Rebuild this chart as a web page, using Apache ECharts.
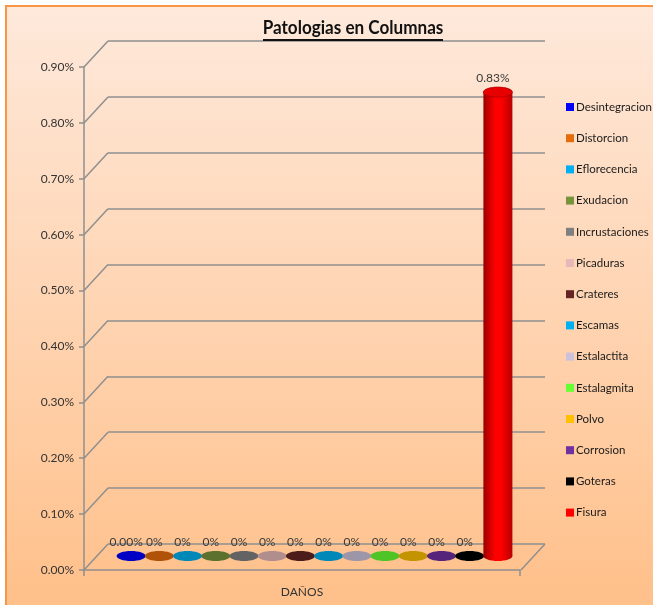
<!DOCTYPE html>
<html>
<head>
<meta charset="utf-8">
<script src="https://cdn.jsdelivr.net/npm/echarts@6/dist/echarts.min.js"></script>
<style>
  html, body { margin: 0; padding: 0; background: #ffffff; }
  #chart { width: 653px; height: 605px; }
</style>
</head>
<body>
<div id="chart"></div>
<script>
// Category shown under the floor of the 3D box
const categories = ['DAÑOS'];

// One series per pathology
const seriesNames = [
  'Desintegracion', 'Distorcion', 'Eflorecencia', 'Exudacion', 'Incrustaciones',
  'Picaduras', 'Crateres', 'Escamas', 'Estalactita', 'Estalagmita',
  'Polvo', 'Corrosion', 'Goteras', 'Fisura'
];

// Values in percent
const seriesValues = [0, 0, 0, 0, 0, 0, 0, 0, 0, 0, 0, 0, 0, 0.83];

// Decimal places used by each data label
const labelDecimals = [2, 0, 0, 0, 0, 0, 0, 0, 0, 0, 0, 0, 0, 2];

const seriesColors = [
  '#0000ff', '#e46c0a', '#00b0f0', '#77933c', '#808080',
  '#e6b9b8', '#632523', '#00b0f0', '#ccc1da', '#66ff33',
  '#ffc000', '#7030a0', '#000000', '#ff0000'
];

// Value axis ticks (percent)
const axisTicks = [0, 0.1, 0.2, 0.3, 0.4, 0.5, 0.6, 0.7, 0.8, 0.9];

const FONT = 'Lato, "Open Sans", sans-serif';
const GRID_COLOR = '#8f8f8f';
const DEPTH_X = 24, DEPTH_Y = 26;   // perspective offset between back wall and front edge

function shade(hex, f) {
  const n = parseInt(hex.slice(1), 16);
  const r = Math.round(((n >> 16) & 255) * f);
  const g = Math.round(((n >> 8) & 255) * f);
  const b = Math.round((n & 255) * f);
  return 'rgb(' + r + ',' + g + ',' + b + ')';
}

const chart = echarts.init(document.getElementById('chart'));

// Box edges joining the back wall gridlines to the front value axis
const frameSeries = {
  type: 'custom',
  xAxisIndex: 1,
  yAxisIndex: 1,
  silent: true,
  z: 1,
  data: axisTicks.map(v => [0, v]),
  renderItem: function (params, api) {
    const v = api.value(1);
    const p = api.coord([0, v]);
    const children = [{
      type: 'line',
      shape: { x1: p[0], y1: p[1], x2: p[0] - DEPTH_X, y2: p[1] + DEPTH_Y },
      style: { stroke: GRID_COLOR, lineWidth: 1.5 }
    }];
    if (v === 0) {
      const q = api.coord([1, 0]);
      children.push({
        type: 'line',
        shape: { x1: q[0], y1: q[1], x2: q[0] - DEPTH_X, y2: q[1] + DEPTH_Y },
        style: { stroke: GRID_COLOR, lineWidth: 1.5 }
      });
    }
    return { type: 'group', children: children };
  }
};

// Cylinder columns
function cylinderSeries(i) {
  const color = seriesColors[i];
  return {
    name: seriesNames[i],
    type: 'custom',
    xAxisIndex: 2,
    yAxisIndex: 2,
    z: 3,
    itemStyle: { color: color },
    encode: { x: 0, y: 1 },
    data: [[seriesNames[i], seriesValues[i]]],
    renderItem: function (params, api) {
      const v = api.value(1);
      const top = api.coord([api.value(0), v]);
      const base = api.coord([api.value(0), 0]);
      const rx = 14.5, ry = 5;
      const cx = base[0];
      const bodyFill = new echarts.graphic.LinearGradient(0, 0, 1, 0, [
        { offset: 0, color: shade(color, 0.6) },
        { offset: 0.4, color: color },
        { offset: 0.6, color: color },
        { offset: 1, color: shade(color, 0.72) }
      ]);
      const children = [];
      if (base[1] - top[1] > 0.5) {
        children.push({
          type: 'ellipse',
          shape: { cx: cx, cy: base[1], rx: rx, ry: ry },
          style: { fill: bodyFill }
        });
        children.push({
          type: 'rect',
          shape: { x: cx - rx, y: top[1], width: rx * 2, height: base[1] - top[1] },
          style: { fill: bodyFill }
        });
        children.push({
          type: 'ellipse',
          shape: { cx: cx, cy: top[1], rx: rx, ry: ry },
          style: { fill: shade(color, 0.9), stroke: shade(color, 0.7), lineWidth: 0.8 }
        });
      } else {
        children.push({
          type: 'ellipse',
          shape: { cx: cx, cy: base[1], rx: rx, ry: ry },
          style: { fill: shade(color, 0.77) }
        });
      }
      children.push({
        type: 'text',
        x: cx - 5,
        y: top[1] - 14,
        style: {
          text: v.toFixed(labelDecimals[i]) + '%',
          fill: '#3a3a3a',
          font: '12px ' + FONT,
          align: 'center',
          verticalAlign: 'middle'
        }
      });
      return { type: 'group', children: children };
    }
  };
}

const option = {
  backgroundColor: '#ffffff',
  animation: false,
  graphic: [
    {
      type: 'rect',
      z: -10,
      shape: { x: 6, y: 6, width: 660, height: 612 },
      style: {
        fill: new echarts.graphic.LinearGradient(0, 0, 0, 1, [
          { offset: 0, color: '#fee9db' },
          { offset: 1, color: '#ffbf88' }
        ]),
        stroke: '#f79646',
        lineWidth: 2
      }
    },
    {
      type: 'text',
      z: 10,
      x: 353,
      y: 28,
      scaleX: 0.9,
      style: {
        text: 'Patologias en Columnas',
        font: 'bold 19px ' + FONT,
        fill: '#111111',
        align: 'center',
        verticalAlign: 'middle'
      }
    },
    {
      type: 'rect',
      z: 10,
      shape: { x: 263, y: 39, width: 180, height: 2 },
      style: { fill: '#111111' }
    }
  ],
  legend: {
    data: seriesNames,
    orient: 'vertical',
    left: 566,
    top: 100,
    padding: 0,
    icon: 'rect',
    itemWidth: 8,
    itemHeight: 8,
    itemGap: 17.2,
    textStyle: { fontFamily: FONT, fontSize: 11.5, color: '#1a1a1a', lineHeight: 14, padding: [0, 0, 0, -3] }
  },
  grid: [
    { left: 84, top: 67, width: 436, height: 503 },
    { left: 108, top: 41, width: 437, height: 503 },
    { left: 117, top: 53, width: 395, height: 503 }
  ],
  xAxis: [
    {
      gridIndex: 0,
      type: 'category',
      data: categories,
      axisLine: { lineStyle: { color: GRID_COLOR, width: 1.5 } },
      axisTick: { show: true, length: 6, lineStyle: { color: GRID_COLOR, width: 1.5 } },
      axisLabel: { margin: 16, fontFamily: FONT, fontSize: 12, color: '#333333' }
    },
    { gridIndex: 1, type: 'value', min: 0, max: 1, show: false },
    { gridIndex: 2, type: 'category', data: seriesNames, show: false }
  ],
  yAxis: [
    {
      gridIndex: 0,
      type: 'value',
      min: 0,
      max: 0.9,
      interval: 0.1,
      axisLine: { show: true, lineStyle: { color: GRID_COLOR, width: 1.5 } },
      axisTick: { show: true, length: 5, lineStyle: { color: GRID_COLOR, width: 1.5 } },
      splitLine: { show: false },
      axisLabel: {
        margin: 10,
        fontFamily: FONT,
        fontSize: 12,
        color: '#333333',
        formatter: v => v.toFixed(2) + '%'
      }
    },
    {
      gridIndex: 1,
      type: 'value',
      min: 0,
      max: 0.9,
      interval: 0.1,
      axisLine: { show: false },
      axisTick: { show: false },
      axisLabel: { show: false },
      splitLine: { show: true, lineStyle: { color: GRID_COLOR, width: 1.5 } }
    },
    { gridIndex: 2, type: 'value', min: 0, max: 0.9, show: false }
  ],
  series: [frameSeries].concat(seriesNames.map((_, i) => cylinderSeries(i)))
};

chart.setOption(option);
</script>
</body>
</html>
